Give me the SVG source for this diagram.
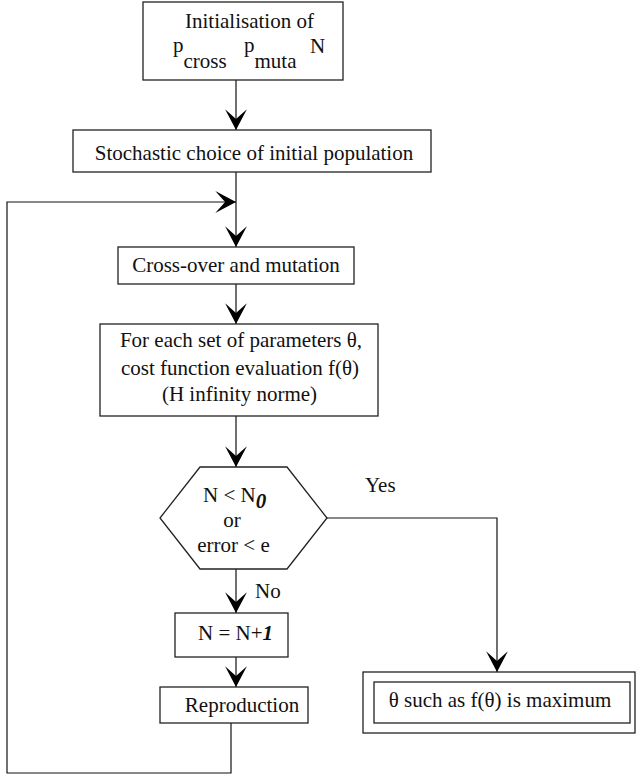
<svg xmlns="http://www.w3.org/2000/svg" width="636" height="777" viewBox="0 0 636 777">
<style>
.box{fill:#fff;stroke:#222;stroke-width:1.3}
.ln{fill:none;stroke:#111;stroke-width:1.2}
text{font-family:'Liberation Serif','Times New Roman',Tinos,'Nimbus Roman','DejaVu Serif',serif;font-size:21px;fill:#111}
.c{text-anchor:middle}
.bi{font-weight:bold;font-style:italic}
</style>
<defs>
<marker id="ah" markerUnits="userSpaceOnUse" markerWidth="24" markerHeight="24" viewBox="-20 -11 22 22" refX="0" refY="0" orient="auto">
<path d="M0,0 L-19,-10 L-10,0 L-19,10 Z" fill="#000"/>
</marker>
</defs>
<rect width="636" height="777" fill="#fff"/>
<g id="connectors">
<path class="ln" d="M236,80 V130" marker-end="url(#ah)"/>
<path class="ln" d="M236,172 V247" marker-end="url(#ah)"/>
<path class="ln" d="M231,723 V773 H7 V202 H236" marker-end="url(#ah)"/>
<path class="ln" d="M236,284 V324" marker-end="url(#ah)"/>
<path class="ln" d="M236,416 V467" marker-end="url(#ah)"/>
<path class="ln" d="M236,569 V613" marker-end="url(#ah)"/>
<path class="ln" d="M236,657 V687" marker-end="url(#ah)"/>
<path class="ln" d="M327,518 H497 V672" marker-end="url(#ah)"/>
</g>
<g id="init">
<rect class="box" x="143" y="2" width="200" height="78"/>
<text class="c" x="249.5" y="28">Initialisation of</text>
<text x="173" y="52">p<tspan dy="16">cross</tspan></text>
<text x="244" y="52">p<tspan dy="16">muta</tspan></text>
<text x="310" y="53">N</text>
</g>
<g id="stochastic">
<rect class="box" x="73" y="130" width="358" height="42"/>
<text class="c" x="254" y="160">Stochastic choice of initial population</text>
</g>
<g id="crossover">
<rect class="box" x="118" y="247" width="236" height="37"/>
<text class="c" x="236" y="272">Cross-over and mutation</text>
</g>
<g id="evaluation">
<rect class="box" x="100" y="324" width="278" height="92"/>
<text class="c" x="241" y="347">For each set of parameters θ,</text>
<text class="c" x="240" y="375">cost function evaluation f(θ)</text>
<text class="c" x="239.5" y="401">(H infinity norme)</text>
</g>
<g id="decision">
<polygon class="box" points="200,467 287,467 327,518 287,569 200,569 160,518"/>
<text x="203" y="502">N &lt; N<tspan class="bi" dy="6">0</tspan></text>
<text class="c" x="232" y="527">or</text>
<text class="c" x="233.5" y="552">error &lt; e</text>
</g>
<g id="label-yes"><text x="365" y="492">Yes</text></g>
<g id="label-no"><text x="255" y="598">No</text></g>
<g id="increment">
<rect class="box" x="175" y="613" width="113" height="44"/>
<text x="198" y="640">N = N+<tspan class="bi">1</tspan></text>
</g>
<g id="reproduction">
<rect class="box" x="160" y="687" width="148" height="36"/>
<text class="c" x="242" y="712">Reproduction</text>
</g>
<g id="result">
<rect class="box" x="363" y="672" width="272" height="61"/>
<rect class="box" x="374" y="682" width="256" height="41"/>
<text class="c" x="500" y="707">θ such as f(θ) is maximum</text>
</g>
</svg>
